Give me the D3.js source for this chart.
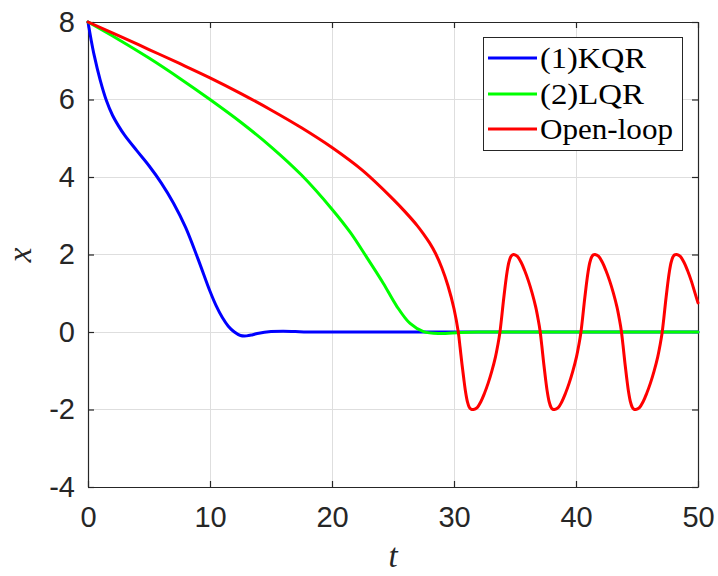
<!DOCTYPE html>
<html>
<head>
<meta charset="utf-8">
<script src="https://cdn.jsdelivr.net/npm/d3@7"></script>
<style>
  html, body { margin: 0; padding: 0; background: #fff; }
  svg { display: block; }
</style>
</head>
<body>
<svg id="chart" width="718" height="576"></svg>
<script>
// ---- data ----
const xTicks = [0, 10, 20, 30, 40, 50];
const yTicks = [-4, -2, 0, 2, 4, 6, 8];
const seriesNames = ["(1)KQR", "(2)LQR", "Open-loop"];
const seriesColors = ["#0000ff", "#00ff00", "#ff0000"];

const kqrT = [0, 0.25, 0.5, 1, 1.5, 2, 2.5, 3, 4, 5, 6, 7, 8, 9, 10, 10.5, 11, 11.5, 12, 12.5, 13, 13.5, 14, 15, 16, 17, 18, 20, 30, 40, 50];
const kqrX = [8, 7.55, 7.15, 6.5, 5.98, 5.6, 5.32, 5.08, 4.68, 4.29, 3.85, 3.33, 2.7, 1.9, 1.05, 0.68, 0.38, 0.15, 0.0, -0.09, -0.1, -0.07, -0.03, 0.01, 0.02, 0.01, 0, 0, 0, 0, 0];

const lqrT = [0, 2.5, 5, 7.5, 10, 12.5, 15, 17.5, 20, 21.5, 22.8, 24.2, 25.3, 26.4, 27.5, 28.8, 30.5, 32, 40, 50];
const lqrX = [8, 7.55, 7.07, 6.55, 6.0, 5.42, 4.78, 4.05, 3.17, 2.57, 1.95, 1.26, 0.67, 0.22, 0.01, -0.04, -0.01, 0, 0, 0];

const openT = [0, 2.5, 5, 7.5, 10, 12.5, 15, 17.5, 20, 22.5, 25, 26, 27, 27.5, 28, 28.5, 29, 29.5, 30, 30.35,
  30.5, 30.65, 30.8, 30.95, 31.1, 31.25, 31.4,
  31.6, 31.9, 32.2, 32.5, 32.8, 33.1, 33.4, 33.6, 33.75, 33.9, 34.05, 34.2, 34.35, 34.5, 34.65, 34.78,
  34.9, 35.2, 35.5, 35.8, 36.1, 36.4, 36.7, 36.9, 37.05, 37.2, 37.35, 37.5, 37.65, 37.8, 37.95, 38.08,
  38.24, 38.54, 38.84, 39.14, 39.44, 39.74, 40.04, 40.24, 40.39, 40.54, 40.69, 40.84, 40.99, 41.14, 41.29, 41.42,
  41.56, 41.86, 42.16, 42.46, 42.76, 43.06, 43.36, 43.56, 43.71, 43.86, 44.01, 44.16, 44.31, 44.46, 44.61, 44.74,
  44.9, 45.2, 45.5, 45.8, 46.1, 46.4, 46.7, 46.9, 47.05, 47.2, 47.35, 47.5, 47.65, 47.8, 47.95, 48.08,
  48.25, 48.55, 48.85, 49.15, 49.45, 49.75, 50];
const openX = [8, 7.65, 7.29, 6.93, 6.56, 6.16, 5.73, 5.27, 4.76, 4.17, 3.43, 3.1, 2.74, 2.53, 2.3, 2.02, 1.66, 1.2, 0.6, 0,
  -0.4, -0.82, -1.2, -1.55, -1.8, -1.94, -1.99,
  -2.0, -1.95, -1.8, -1.58, -1.32, -1.01, -0.64, -0.32, -0.04, 0.36, 0.8, 1.2, 1.55, 1.8, 1.94, 1.99,
  2.0, 1.95, 1.8, 1.58, 1.32, 1.01, 0.64, 0.32, 0.04, -0.36, -0.8, -1.2, -1.55, -1.8, -1.94, -1.99,
  -2.0, -1.95, -1.8, -1.58, -1.32, -1.01, -0.64, -0.32, -0.04, 0.36, 0.8, 1.2, 1.55, 1.8, 1.94, 1.99,
  2.0, 1.95, 1.8, 1.58, 1.32, 1.01, 0.64, 0.32, 0.04, -0.36, -0.8, -1.2, -1.55, -1.8, -1.94, -1.99,
  -2.0, -1.95, -1.8, -1.58, -1.32, -1.01, -0.64, -0.32, -0.04, 0.36, 0.8, 1.2, 1.55, 1.8, 1.94, 1.99,
  2.0, 1.95, 1.8, 1.58, 1.32, 1.01, 0.75];

// ---- layout ----
const svg = d3.select("#chart");
const L = 88, R = 698, T = 22, B = 487;
const xScale = d3.scaleLinear().domain([0, 50]).range([L, R]);
const yScale = d3.scaleLinear().domain([-4, 8]).range([B, T]);
const axisColor = "#262626";
const tickFont = "'Liberation Sans', Arial, Helvetica, sans-serif";
const fmt = d => String(d);

// grid
const grid = svg.append("g");
grid.selectAll("line.gx").data(xTicks).enter().append("line")
  .attr("x1", d => xScale(d)).attr("x2", d => xScale(d))
  .attr("y1", T).attr("y2", B)
  .attr("stroke", "#dedede").attr("stroke-width", 1).attr("shape-rendering", "crispEdges");
grid.selectAll("line.gy").data(yTicks).enter().append("line")
  .attr("y1", d => yScale(d)).attr("y2", d => yScale(d))
  .attr("x1", L).attr("x2", R)
  .attr("stroke", "#dedede").attr("stroke-width", 1).attr("shape-rendering", "crispEdges");

// axes
const bottomAxis = d3.axisBottom(xScale).tickValues(xTicks).tickSizeInner(-6).tickSizeOuter(0).tickPadding(19).tickFormat(fmt);
const topAxis = d3.axisTop(xScale).tickValues(xTicks).tickSizeInner(-6).tickSizeOuter(0).tickFormat("");
const leftAxis = d3.axisLeft(yScale).tickValues(yTicks).tickSizeInner(-6).tickSizeOuter(0).tickPadding(13).tickFormat(fmt);
const rightAxis = d3.axisRight(yScale).tickValues(yTicks).tickSizeInner(-6).tickSizeOuter(0).tickFormat("");

function styleAxis(g) {
  g.select(".domain").attr("stroke", axisColor).attr("stroke-width", 1.2);
  g.selectAll(".tick line").attr("stroke", axisColor).attr("stroke-width", 1.2);
  g.selectAll(".tick text").attr("fill", axisColor)
    .style("font-family", tickFont).style("font-size", "29px");
}

svg.append("g").attr("transform", `translate(0,${B})`).call(bottomAxis).call(styleAxis);
svg.append("g").attr("transform", `translate(0,${T})`).call(topAxis).call(styleAxis);
svg.append("g").attr("transform", `translate(${L},0)`).call(leftAxis).call(styleAxis);
svg.append("g").attr("transform", `translate(${R},0)`).call(rightAxis).call(styleAxis);

// lines
const lineGen = d3.line().x(d => xScale(d[0])).y(d => yScale(d[1])).curve(d3.curveCatmullRom.alpha(0.5));
const series = [
  d3.zip(kqrT, kqrX),
  d3.zip(lqrT, lqrX),
  d3.zip(openT, openX)
];
series.forEach((pts, i) => {
  svg.append("path").datum(pts)
    .attr("d", lineGen)
    .attr("fill", "none")
    .attr("stroke", seriesColors[i])
    .attr("stroke-width", 3)
    .attr("stroke-linejoin", "round")
    .attr("stroke-linecap", "round");
});

// axis labels
svg.append("text")
  .attr("x", 393).attr("y", 567)
  .attr("text-anchor", "middle")
  .style("font-family", "'Liberation Serif', 'Times New Roman', serif")
  .style("font-style", "italic").style("font-size", "33px")
  .attr("fill", axisColor)
  .text("t");
svg.append("text")
  .attr("transform", "translate(31,255) rotate(-90)")
  .attr("text-anchor", "middle")
  .style("font-family", "'Liberation Serif', 'Times New Roman', serif")
  .style("font-style", "italic").style("font-size", "33px")
  .attr("fill", axisColor)
  .text("x");

// legend
const lg = svg.append("g");
lg.append("rect").attr("x", 483.5).attr("y", 37.5).attr("width", 199).attr("height", 113)
  .attr("fill", "#fff").attr("stroke", axisColor).attr("stroke-width", 1);
const rowY = [58, 94, 129];
const textW = [106, 104, 133];
seriesNames.forEach((name, i) => {
  lg.append("line").attr("x1", 488).attr("x2", 537)
    .attr("y1", rowY[i]).attr("y2", rowY[i])
    .attr("stroke", seriesColors[i]).attr("stroke-width", 3);
  lg.append("text").attr("x", 540).attr("y", rowY[i] + 10)
    .attr("textLength", textW[i]).attr("lengthAdjust", "spacingAndGlyphs")
    .style("font-family", "'Liberation Serif', 'Times New Roman', serif")
    .style("font-size", "29px").attr("fill", "#000")
    .text(name);
});
</script>
</body>
</html>
